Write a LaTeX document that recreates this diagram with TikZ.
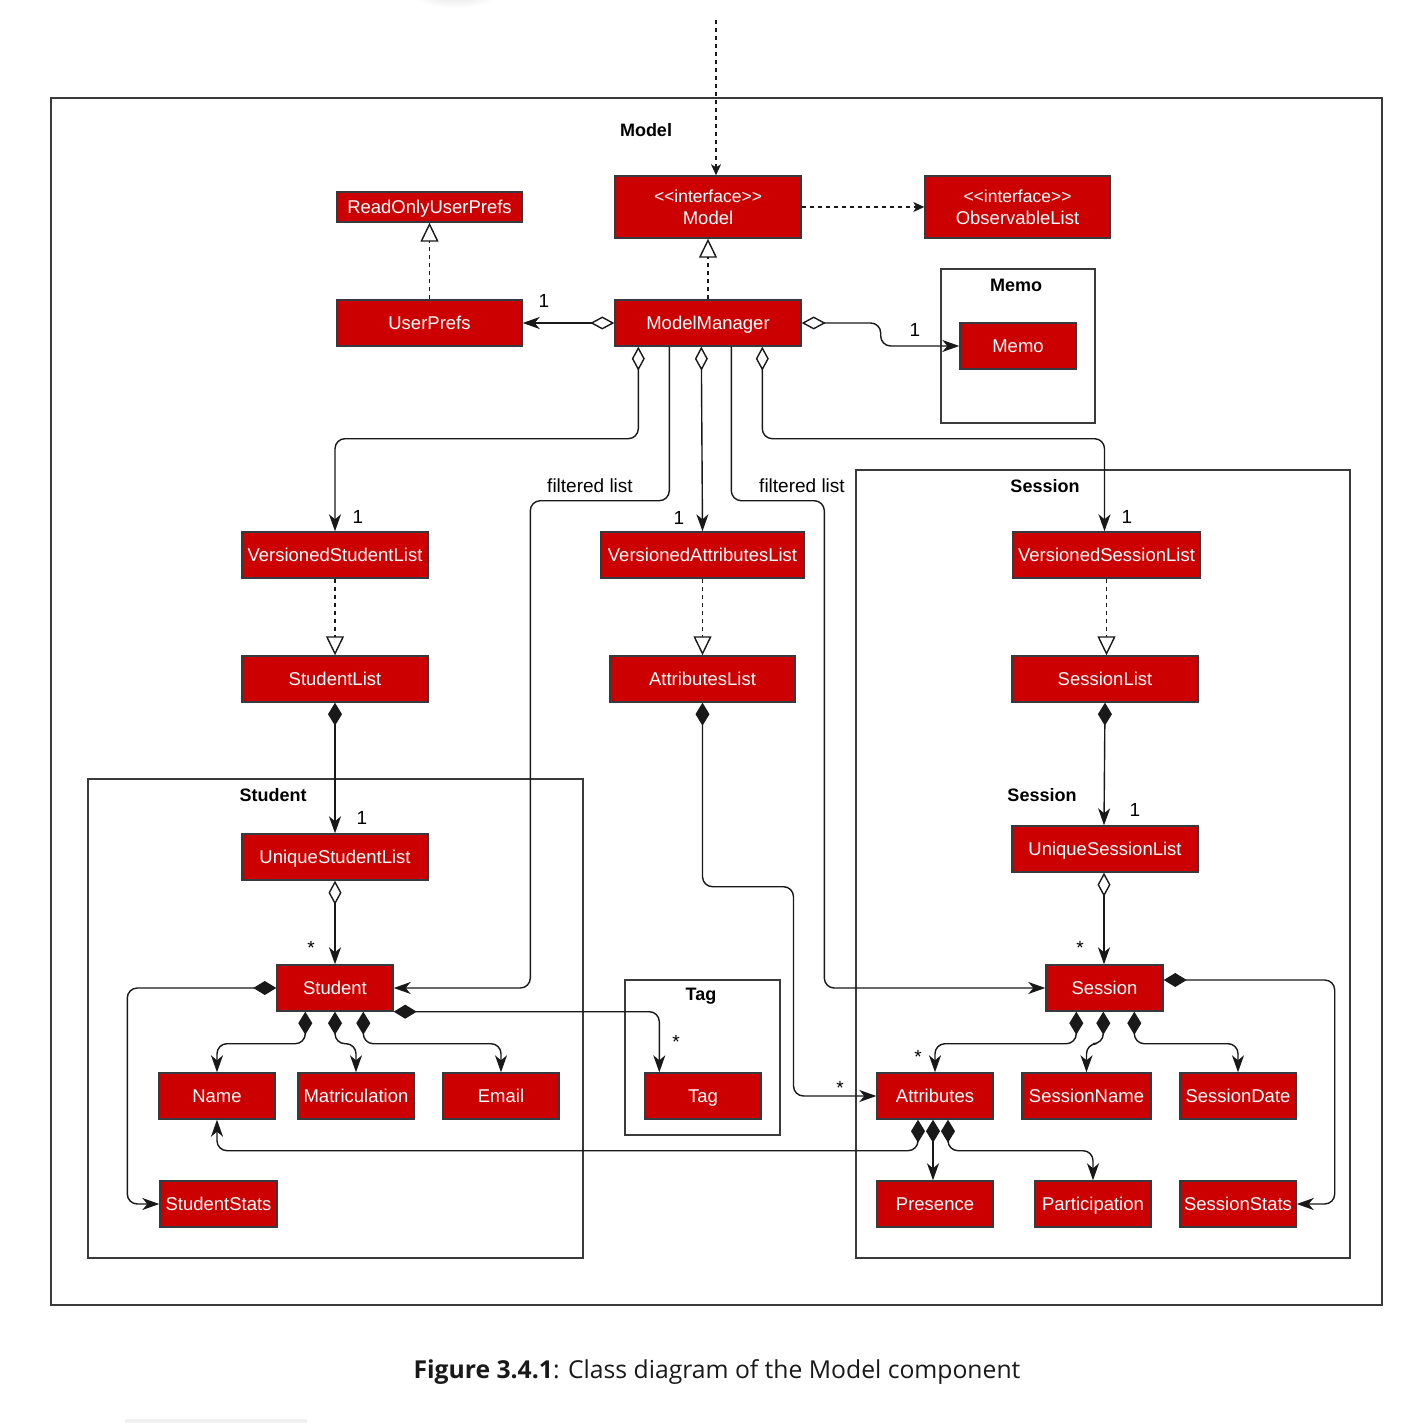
\documentclass[tikz,border=0pt]{standalone}
\usepackage{fontspec}
\setmainfont{Liberation Sans}
\newfontfamily\capfont{Open Sans}
\usetikzlibrary{arrows.meta,calc}

\definecolor{clsred}{HTML}{CC0000}
\definecolor{clsedge}{HTML}{36393D}
\definecolor{frameline}{HTML}{3A3A3A}

\tikzset{
  clsbase/.style={draw=clsedge, line width=1.4pt, fill=clsred, text=white,
    font=\fontsize{18.5}{20}\selectfont, inner sep=0pt, align=center},
  cls/.style={clsbase, text height=13.3pt, text depth=0pt},
  pkg/.style={draw=frameline, line width=1.3pt},
  pkgname/.style={font=\fontsize{18}{20}\selectfont\bfseries, text=black},
  mult/.style={font=\fontsize{19}{21}\selectfont, text=black},
  link/.style={line width=1.4pt, draw=black!90, rounded corners=10pt},
  agg/.style={link, {Diamond[open,fill=white,length=24pt,width=13pt]}-{Stealth[length=17pt,width=12pt,inset=5pt]}},
  comp/.style={link, {Diamond[length=23pt,width=14pt]}-{Stealth[length=17pt,width=12pt,inset=5pt]}},
  assoc/.style={link, -{Stealth[length=17pt,width=12pt,inset=5pt]}},
  real/.style={line width=1.4pt, draw=black!90, dash pattern=on 4pt off 4pt,
    -{Triangle[open,fill=white,length=19pt,width=18pt]}},
  dep/.style={line width=1.4pt, draw=black!90, dash pattern=on 4pt off 4pt,
    -{Stealth[length=11pt,width=10pt,inset=3pt]}},
}

\begin{document}
\begin{tikzpicture}[x=1pt,y=-1pt]
\useasboundingbox (0,0) rectangle (1427,1423);
\fill[white] (0,0) rectangle (1427,1423);

% faint shadow at the top edge and the light bar at the bottom
\shade[inner color=black!18, outer color=white] (455,-14) ellipse (50 and 22);
\fill[blue!8!black!6, rounded corners=2pt] (125,1419) rectangle (307,1427);

% package frames
\draw[pkg] (51,98) rectangle (1382,1305);
\draw[pkg] (941,269) rectangle (1095,423);
\draw[pkg] (856,470) rectangle (1350,1258);
\draw[pkg] (88,779) rectangle (583,1258);
\draw[pkg] (625,980) rectangle (780,1135);

\node[pkgname] (lmodel) at (646,130) {Model};
\node[pkgname] (lmemo) at (1016,285) {Memo};
\node[pkgname] (lsession) at (1045,486) {Session};
\node[pkgname] (lsession2) at (1042,795) {Session};
\node[pkgname] (lstudent) at (273,795) {Student};
\node[pkgname] (ltag) at (701,996) {Tag};

% classes
\node[clsbase, minimum width=186pt, minimum height=62pt] (im) at (708,207)
  {{\fontsize{17.5}{23}\selectfont<{}<interface>{}>}\\[2pt]Model};
\node[clsbase, minimum width=185pt, minimum height=62pt] (obs) at (1017.5,207)
  {{\fontsize{17.5}{23}\selectfont<{}<interface>{}>}\\[2pt]ObservableList};
\node[cls, minimum width=185pt, minimum height=30pt] (rup) at (429.5,207) {ReadOnlyUserPrefs};
\node[cls, minimum width=185pt, minimum height=46pt] (up) at (429.5,323) {UserPrefs};
\node[cls, minimum width=186pt, minimum height=46pt] (mm) at (708,323) {ModelManager};
\node[cls, minimum width=116pt, minimum height=46pt] (memo) at (1018,346) {Memo};

\node[cls, minimum width=186pt, minimum height=46pt] (vsl) at (335,555) {VersionedStudentList};
\node[cls, minimum width=203pt, minimum height=46pt] (vattr) at (702.5,555) {VersionedAttributesList};
\node[cls, minimum width=187pt, minimum height=46pt] (vsel) at (1106.5,555) {VersionedSessionList};

\node[cls, minimum width=186pt, minimum height=46pt] (sl) at (335,679) {StudentList};
\node[cls, minimum width=185pt, minimum height=46pt] (attrl) at (702.5,679) {AttributesList};
\node[cls, minimum width=186pt, minimum height=46pt] (sesl) at (1105,679) {SessionList};

\node[cls, minimum width=186pt, minimum height=46pt] (usl) at (335,857) {UniqueStudentList};
\node[cls, minimum width=186pt, minimum height=46pt] (usesl) at (1105,849) {UniqueSessionList};

\node[cls, minimum width=116pt, minimum height=46pt] (stu) at (335,988) {Student};
\node[cls, minimum width=117pt, minimum height=46pt] (ses) at (1104.5,988) {Session};

\node[cls, minimum width=116pt, minimum height=46pt] (name) at (217,1096) {Name};
\node[cls, minimum width=116pt, minimum height=46pt] (mat) at (356,1096) {Matriculation};
\node[cls, minimum width=116pt, minimum height=46pt] (email) at (501,1096) {Email};
\node[cls, minimum width=117pt, minimum height=46pt] (sst) at (218.5,1204) {StudentStats};

\node[cls, minimum width=116pt, minimum height=46pt] (tag) at (703,1096) {Tag};

\node[cls, minimum width=116pt, minimum height=46pt] (attr) at (935,1096) {Attributes};
\node[cls, minimum width=129pt, minimum height=46pt] (sname) at (1086.5,1096) {SessionName};
\node[cls, minimum width=116pt, minimum height=46pt] (sdate) at (1238,1096) {SessionDate};
\node[cls, minimum width=116pt, minimum height=46pt] (pres) at (935,1204) {Presence};
\node[cls, minimum width=116pt, minimum height=46pt] (part) at (1093,1204) {Participation};
\node[cls, minimum width=116pt, minimum height=46pt] (sst2) at (1238,1204) {SessionStats};

% incoming dependency from outside the package
\coordinate (ext) at (716,20);
\draw[dep] (ext) -- ($(im.north)+(8,0)$);
\draw[dep] (im.east) -- (obs.west);

% realizations
\draw[real] (up.north) -- (rup.south);
\draw[real] (mm.north) -- (im.south);
\draw[real] (vsl.south) -- (sl.north);
\draw[real] (vattr.south) -- (attrl.north);
\draw[real] (vsel.south) -- ($(sesl.north)+(1.5,0)$);

% ModelManager associations
\draw[agg] (mm.west) -- (up.east);
\node[mult] (m1) at (544,301) {1};
\draw[agg] (mm.east) -- ++(79,0) |- (memo.west);
\node[mult] (m2) at (915,330) {1};

\draw[agg] ($(mm.south west)+(24,0)$) -- ++(0,92) -| (vsl.north);
\node[mult] (m3) at (358,517) {1};
\draw[agg] ($(mm.south west)+(87,0)$) -- (vattr.north);
\node[mult] (m4) at (679,518) {1};
\draw[agg] ($(mm.south west)+(148,0)$) -- ++(0,92) -| ($(vsel.north)+(-2,0)$);
\node[mult] (m5) at (1127,517) {1};

% filtered lists
\draw[assoc] ($(mm.south west)+(55,0)$) |- ++(-139,154) |- (stu.east);
\node[mult] (fl1) at (590,486) {filtered list};
\draw[assoc] ($(mm.south west)+(117,0)$) |- ++(93,154) |- (ses.west);
\node[mult] (fl2) at (802,486) {filtered list};

% list compositions
\draw[comp] (sl.south) -- (usl.north);
\node[mult] (m6) at (362,818) {1};
\draw[comp] (sesl.south) -- ($(usesl.north)+(-1,0)$);
\node[mult] (m7) at (1135,810) {1};
\draw[comp] (attrl.south) |- ++(91,184) |- (attr.west);
\node[mult] (m8) at (840,1088) {*};

\draw[agg] (usl.south) -- (stu.north);
\node[mult] (m9) at (311,948) {*};
\draw[agg] ($(usesl.south)+(-1,0)$) -- ($(ses.north)+(-0.5,0)$);
\node[mult] (m10) at (1080,948) {*};

% Student parts
\draw[comp] (stu.west) -- ++(-149,0) |- (sst.west);
\draw[comp] ($(stu.south west)+(29,0)$) -- ++(0,32) -| (name.north);
\draw[comp] (stu.south) -- ++(0,32) -| (mat.north);
\draw[comp] ($(stu.south west)+(87,0)$) -- ++(0,32) -| (email.north);
\draw[comp] (stu.south east) -| ($(tag.north west)+(15,0)$);
\node[mult] (m11) at (676,1042) {*};

% Session parts
\draw[comp] ($(ses.south west)+(31,0)$) -- ++(0,32) -| (attr.north);
\node[mult] (m12) at (918,1057) {*};
\draw[comp] ($(ses.south west)+(58,0)$) -- ++(0,32) -| (sname.north);
\draw[comp] ($(ses.south west)+(89,0)$) -- ++(0,32) -| (sdate.north);
\draw[comp] ($(ses.east)+(0,-8)$) -- ++(171,0) |- (sst2.east);

% Attributes parts
\draw[comp] ($(attr.south)+(-17,0)$) -- ++(0,31) -| (name.south);
\draw[comp] ($(attr.south)+(-2,0)$) -- ($(pres.north)+(-2,0)$);
\draw[comp] ($(attr.south)+(13,0)$) -- ++(0,31) -| (part.north);

% caption
\node[font=\capfont\fontsize{24.7}{28}\selectfont, text=black!90] (cap) at (717,1372)
  {\textbf{Figure 3.4.1}: Class diagram of the Model component};
\end{tikzpicture}
\end{document}
